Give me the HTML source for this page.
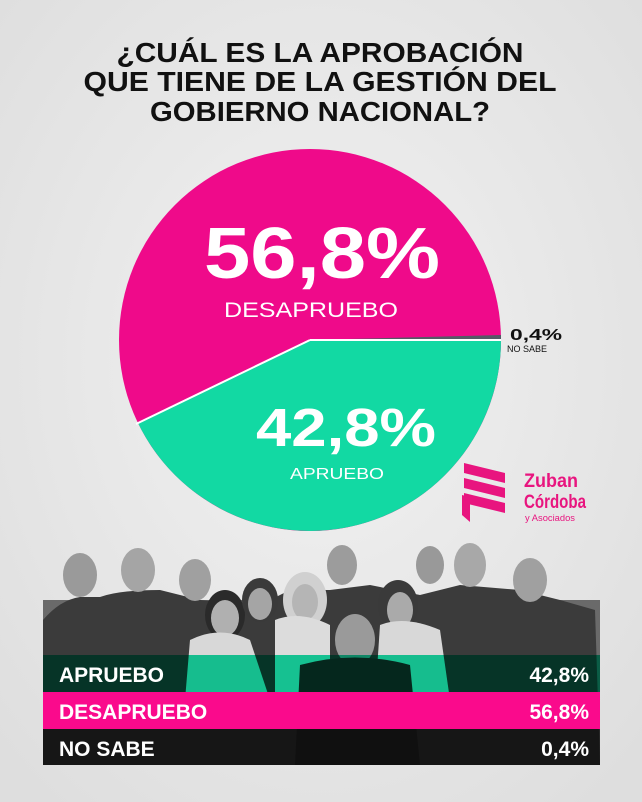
<!DOCTYPE html>
<html><head><meta charset="utf-8"><style>
html,body{margin:0;padding:0;background:#e9e9e9;}
svg{display:block}
text{font-family:"Liberation Sans",sans-serif;font-weight:bold}
</style></head><body>
<svg width="642" height="802" viewBox="0 0 642 802" xmlns="http://www.w3.org/2000/svg">
<defs>
<radialGradient id="bg" cx="50%" cy="45%" r="70%"><stop offset="0" stop-color="#f2f2f2"/><stop offset="1" stop-color="#dedede"/></radialGradient>
</defs>
<rect width="642" height="802" fill="url(#bg)"/>
<g fill="#111" font-size="28" text-anchor="middle">
<text x="320" y="62" textLength="407" lengthAdjust="spacingAndGlyphs">¿CUÁL ES LA APROBACIÓN</text>
<text x="320" y="91" textLength="473" lengthAdjust="spacingAndGlyphs">QUE TIENE DE LA GESTIÓN DEL</text>
<text x="320" y="121" textLength="340" lengthAdjust="spacingAndGlyphs">GOBIERNO NACIONAL?</text>
</g>
<circle cx="310" cy="340" r="191" fill="#ef0a8a"/>
<path d="M310,340 L501,340 A191,191 0 0 1 138,423 Z" fill="#12d9a3"/>
<path d="M310,340 L501,340 L501,335 Z" fill="#555a66"/>
<line x1="310" y1="340" x2="501" y2="340" stroke="#fff" stroke-width="2"/>
<line x1="310" y1="340" x2="136" y2="424" stroke="#fff" stroke-width="2"/>
<g fill="#fff" text-anchor="middle">
<text x="322" y="278" font-size="72" textLength="236" lengthAdjust="spacingAndGlyphs">56,8%</text>
<text x="311" y="317" font-size="21" style="font-weight:normal" textLength="174" lengthAdjust="spacingAndGlyphs">DESAPRUEBO</text>
<text x="346" y="446" font-size="54" textLength="180" lengthAdjust="spacingAndGlyphs">42,8%</text>
<text x="337" y="479" font-size="16" style="font-weight:normal" textLength="94" lengthAdjust="spacingAndGlyphs">APRUEBO</text>
</g>
<text x="510" y="340" font-size="16" fill="#111" textLength="52" lengthAdjust="spacingAndGlyphs">0,4%</text>
<text x="507" y="352" font-size="9" fill="#111" style="font-weight:normal">NO SABE</text>
<g fill="#e8157f">
<polygon points="464,463 505,473 505,483 464,473"/>
<polygon points="464,478 505,488 505,498 464,488"/>
<polygon points="464,493 505,503 505,513 464,503"/>
<polygon points="462,495 470,497 470,522 462,515"/>
<text x="524" y="487" font-size="19" textLength="54" lengthAdjust="spacingAndGlyphs">Zuban</text>
<text x="524" y="508" font-size="19" textLength="62" lengthAdjust="spacingAndGlyphs">Córdoba</text>
<text x="525" y="521" font-size="9" style="font-weight:normal" textLength="50" lengthAdjust="spacingAndGlyphs">y Asociados</text>
</g>
<g>
<rect x="43" y="600" width="557" height="165" fill="#6a6a6a"/>
<path d="M43,620 Q60,600 80,597 L100,597 Q120,590 160,590 L200,600 L260,605 L290,590 L330,590 L370,585 L420,595 L460,585 L520,590 L560,600 L595,610 L600,765 L43,765 Z" fill="#3b3b3b"/>
<ellipse cx="80" cy="575" rx="17" ry="22" fill="#9a9a9a"/>
<ellipse cx="138" cy="570" rx="17" ry="22" fill="#a5a5a5"/>
<ellipse cx="195" cy="580" rx="16" ry="21" fill="#a0a0a0"/>
<ellipse cx="225" cy="615" rx="20" ry="25" fill="#2a2a2a"/>
<ellipse cx="225" cy="618" rx="14" ry="18" fill="#b0b0b0"/>
<ellipse cx="260" cy="600" rx="18" ry="22" fill="#3a3a3a"/>
<ellipse cx="260" cy="604" rx="12" ry="16" fill="#a5a5a5"/>
<ellipse cx="305" cy="600" rx="22" ry="28" fill="#d0d0d0"/>
<ellipse cx="305" cy="602" rx="13" ry="18" fill="#b5b5b5"/>
<ellipse cx="342" cy="565" rx="15" ry="20" fill="#9c9c9c"/>
<ellipse cx="398" cy="605" rx="20" ry="25" fill="#3a3a3a"/>
<ellipse cx="400" cy="610" rx="13" ry="18" fill="#aaa"/>
<ellipse cx="430" cy="565" rx="14" ry="19" fill="#999"/>
<ellipse cx="470" cy="565" rx="16" ry="22" fill="#a8a8a8"/>
<ellipse cx="530" cy="580" rx="17" ry="22" fill="#a0a0a0"/>
<ellipse cx="355" cy="640" rx="20" ry="26" fill="#9a9a9a"/>
<path d="M190,640 Q220,625 250,640 L270,700 L185,700 Z" fill="#d8d8d8"/>
<path d="M275,620 Q300,610 330,625 L330,700 L275,700 Z" fill="#dcdcdc"/>
<path d="M380,625 Q405,615 440,630 L450,700 L375,700 Z" fill="#d8d8d8"/>
<path d="M300,665 Q355,650 410,665 L420,765 L295,765 Z" fill="#2c2c2c"/>
</g>
<rect x="43" y="655" width="557" height="37" fill="#19e0a8" style="mix-blend-mode:multiply"/>
<rect x="43" y="692" width="557" height="37" fill="#fa0a8c"/>
<rect x="43" y="729" width="557" height="36" fill="#333" style="mix-blend-mode:multiply" opacity="0.8"/>
<g fill="#fff" font-size="21">
<text x="59" y="682">APRUEBO</text>
<text x="59" y="719">DESAPRUEBO</text>
<text x="59" y="756">NO SABE</text>
<text x="589" y="682" text-anchor="end">42,8%</text>
<text x="589" y="719" text-anchor="end">56,8%</text>
<text x="589" y="756" text-anchor="end">0,4%</text>
</g>
</svg>
</body></html>
